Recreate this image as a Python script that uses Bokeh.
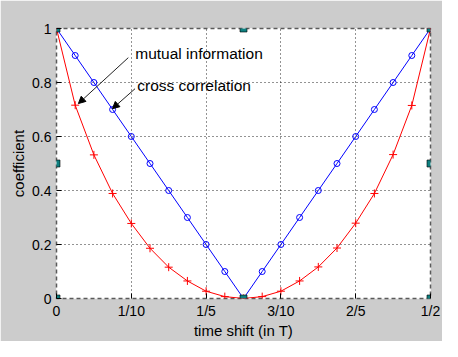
from bokeh.plotting import figure
from bokeh.models import FixedTicker, Label, Arrow, NormalHead
from bokeh.embed import file_html
from bokeh.resources import INLINE

# ---- data ----
time_shift = [0.0, 0.025, 0.05, 0.075, 0.1, 0.125, 0.15, 0.175, 0.2, 0.225, 0.25,
              0.275, 0.3, 0.325, 0.35, 0.375, 0.4, 0.425, 0.45, 0.475, 0.5]
mutual_info = [1.0, 0.9, 0.8, 0.7, 0.6, 0.5, 0.4, 0.3, 0.2, 0.1, 0.0,
               0.1, 0.2, 0.3, 0.4, 0.5, 0.6, 0.7, 0.8, 0.9, 1.0]
cross_corr = [1.0, 0.716, 0.532, 0.389, 0.278, 0.186, 0.116, 0.065, 0.027, 0.007, 0.0,
              0.007, 0.027, 0.065, 0.117, 0.187, 0.279, 0.389, 0.533, 0.715, 1.0]
x_ticks = [0, 0.1, 0.2, 0.3, 0.4, 0.5]
x_tick_labels = ["0", "1/10", "1/5", "3/10", "2/5", "1/2"]
y_ticks = [0, 0.2, 0.4, 0.6, 0.8, 1]
y_tick_labels = ["0", "0.2", "0.4", "0.6", "0.8", "1"]
handle_x = [0, 0.25, 0.5, 0, 0.5, 0, 0.25, 0.5]
handle_y = [1, 1, 1, 0.5, 0.5, 0, 0, 0]

FONT = "Liberation Sans"

p = figure(width=442, height=341, x_range=(0, 0.5), y_range=(0, 1),
           output_backend="svg", toolbar_location=None,
           min_border_left=56, min_border_right=12,
           min_border_top=28, min_border_bottom=33)

p.background_fill_color = "white"
p.border_fill_color = "#cccccc"
p.outline_line_color = "#5a5a5a"
p.outline_line_dash = "4 3"
p.outline_line_width = 1.5

# axes
p.xaxis.ticker = FixedTicker(ticks=x_ticks)
p.xaxis.major_label_overrides = dict(zip(x_ticks, x_tick_labels))
p.yaxis.ticker = FixedTicker(ticks=y_ticks)
p.yaxis.major_label_overrides = dict(zip(y_ticks, y_tick_labels))
for ax in (p.xaxis, p.yaxis):
    ax.axis_line_color = None
    ax.major_tick_in = 5
    ax.major_tick_out = 0
    ax.major_tick_line_color = "black"
    ax.minor_tick_line_color = None
    ax.major_label_text_font = FONT
    ax.major_label_text_font_size = "14px"
    ax.major_label_text_color = "black"
    ax.axis_label_text_font = FONT
    ax.axis_label_text_font_size = "15px"
    ax.axis_label_text_font_style = "normal"
    ax.axis_label_text_color = "black"
p.xaxis.major_label_standoff = 4
p.yaxis.major_label_standoff = 5

p.yaxis.axis_label = "coefficient"
p.yaxis.axis_label_standoff = 2
p.xaxis.axis_label = "time shift (in T)"
p.xaxis.axis_label_standoff = 0

# grid
p.xgrid.ticker = FixedTicker(ticks=x_ticks)
p.ygrid.ticker = FixedTicker(ticks=y_ticks)
for g in (p.xgrid, p.ygrid):
    g.grid_line_color = "black"
    g.grid_line_dash = "1 3"
    g.grid_line_alpha = 0.85
    g.grid_line_width = 1

# series
p.line(time_shift, mutual_info, line_color="#0000ff", line_width=1)
p.scatter(time_shift, mutual_info, marker="circle", size=6,
          fill_color=None, line_color="#0000ff", line_width=1)
p.line(time_shift, cross_corr, line_color="#ff0000", line_width=1)
p.scatter(time_shift, cross_corr, marker="cross", size=8,
          line_color="#ff0000", line_width=1)

# selection handles
p.scatter(handle_x, handle_y, marker="square", size=7,
          fill_color="#0e8080", line_color="#000000", line_width=0.6)

# annotations
p.add_layout(Label(x=0.1053, y=0.906, text="mutual information",
                   text_font=FONT, text_font_size="15.5px",
                   text_baseline="middle", text_align="left", text_color="black"))
p.add_layout(Label(x=0.108, y=0.79, text="cross correlation",
                   text_font=FONT, text_font_size="15.5px",
                   text_baseline="middle", text_align="left", text_color="black"))
p.add_layout(Arrow(x_start=0.096, y_start=0.892, x_end=0.0293, y_end=0.722,
                   line_color="#222222", line_width=1,
                   end=NormalHead(size=7, fill_color="black", line_color="black")))
p.add_layout(Arrow(x_start=0.105, y_start=0.777, x_end=0.0747, y_end=0.703,
                   line_color="#222222", line_width=1,
                   end=NormalHead(size=7, fill_color="black", line_color="black")))

html = file_html(p, INLINE)
open("out.html", "w").write(html)
